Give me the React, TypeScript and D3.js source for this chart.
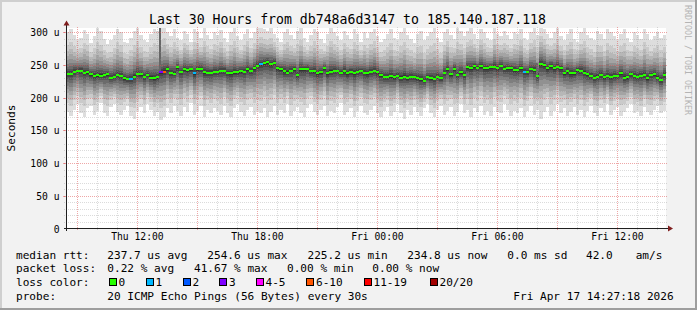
import React from 'react';
import * as d3 from 'd3';

// ---------- data ----------
const START = new Date(2026, 3, 16, 8, 27, 18);
const END = new Date(2026, 3, 17, 14, 27, 18);
const STEP_MIN = 10;

// median rtt per 10-minute column (microseconds)
const medianRtt = [
  236.2, 236.4, 239.8, 241.3, 241.3, 238.2, 238.8, 235.7, 233.6, 234.2, 233.6, 234.7, 236.2, 230.6, 232.1,
  234.7, 233.6, 229.6, 228.0, 228.5, 232.1, 236.2, 235.7, 232.1, 234.7, 230.6, 229.6, 231.1, 239.3, 239.8,
  243.3, 238.2, 236.7, 246.4, 239.8, 243.3, 242.3, 243.3, 237.2, 243.9, 244.4, 239.3, 238.2, 238.2, 239.8,
  239.8, 241.3, 241.3, 238.2, 237.2, 238.8, 238.8, 240.8, 239.8, 243.3, 241.3, 244.9, 249.0, 251.0, 252.5,
  254.6, 251.5, 253.5, 244.9, 243.9, 240.8, 238.2, 241.3, 243.3, 234.7, 243.3, 243.3, 244.4, 240.8, 240.8,
  237.2, 238.8, 244.9, 237.2, 239.8, 241.3, 240.8, 238.2, 240.8, 237.2, 239.8, 237.2, 239.8, 240.8, 238.2,
  237.2, 239.8, 240.8, 238.8, 234.7, 232.1, 231.1, 233.1, 231.1, 233.6, 230.6, 232.1, 229.6, 232.1, 231.1,
  229.6, 228.0, 225.2, 231.1, 229.6, 228.5, 232.1, 229.6, 238.2, 243.3, 235.7, 243.9, 234.7, 238.8, 234.7,
  246.4, 244.9, 247.9, 245.9, 248.4, 244.9, 244.9, 246.4, 247.4, 244.9, 249.0, 243.9, 244.9, 244.9, 242.3,
  242.3, 244.9, 239.8, 239.8, 243.9, 241.8, 233.6, 251.5, 250.0, 244.9, 249.0, 244.9, 247.4, 244.9, 237.2,
  240.8, 237.2, 237.2, 242.3, 240.8, 238.2, 235.7, 233.1, 230.6, 232.1, 234.7, 231.1, 233.1, 231.1, 233.1,
  233.1, 237.2, 230.6, 231.1, 235.7, 233.1, 232.1, 233.6, 234.7, 229.6, 234.7, 235.7, 230.6, 227.0, 234.8,
];

// highest ping per column (microseconds, estimated)
const pingMax = [
  300, 306, 296, 288, 292, 304, 298, 284, 294, 308, 302, 290, 282, 288, 296, 306, 300, 286, 284, 292, 302, 308, 296, 288, 286, 298, 306, 302, 310, 314, 300, 294, 306, 292, 288, 302, 298, 286, 306, 300, 292, 308, 296, 290, 300,
  296, 304, 292, 286, 300, 308, 294, 288, 298, 306, 292, 300, 308, 312, 306, 302, 308, 298, 292, 286, 300, 306, 296, 290, 302, 308, 292, 286, 296, 306, 300, 290, 284, 298, 308, 300, 294, 288, 302, 296, 290, 306, 298, 286, 300,
  292, 300, 306, 294, 286, 290, 298, 306, 292, 288, 300, 308, 296, 290, 284, 298, 302, 288, 294, 300, 308, 292, 286, 300, 306, 296, 290, 308, 302, 294, 302, 308, 298, 290, 306, 300, 292, 288, 308, 298, 294, 302, 296, 290, 300,
  298, 306, 292, 288, 300, 308, 296, 314, 306, 298, 292, 300, 308, 294, 288, 298, 306, 290, 286, 300, 308, 296, 292, 288, 302, 298, 290, 306, 300, 294, 288, 298, 306, 292, 286, 300, 296, 290, 306, 298, 288, 294, 300, 292, 296,
];

// lowest ping per column (microseconds, estimated)
const pingMin = [
  178, 172, 182, 190, 176, 170, 184, 188, 174, 180, 192, 176, 172, 186, 190, 178, 174, 182, 188, 172, 168, 180, 186, 176, 190, 182, 172, 178, 166, 170, 184, 176, 188, 180, 172, 186, 178, 192, 174, 180, 188, 170, 182, 176, 184,
  180, 174, 188, 176, 170, 184, 190, 178, 172, 182, 186, 174, 180, 176, 184, 170, 178, 188, 174, 182, 176, 190, 172, 180, 186, 176, 170, 184, 190, 178, 174, 182, 188, 172, 180, 176, 186, 192, 174, 178, 184, 170, 180, 188, 176,
  174, 182, 188, 176, 170, 180, 186, 172, 178, 190, 176, 168, 182, 174, 186, 178, 172, 184, 190, 176, 170, 182, 188, 174, 180, 186, 172, 178, 190, 176, 182, 170, 184, 178, 188, 174, 180, 172, 186, 178, 176, 190, 182, 172, 180,
  176, 184, 170, 180, 188, 174, 182, 168, 178, 186, 172, 180, 190, 176, 184, 172, 178, 186, 174, 182, 170, 180, 188, 176, 172, 184, 178, 190, 174, 182, 186, 172, 178, 184, 190, 176, 180, 172, 186, 178, 174, 182, 188, 176, 180,
];

// columns with packet loss and the number of lost pings
const lossCols = [19, 28, 29, 38, 58, 137];
const lossPings = [1, 3, 8, 1, 1, 1];

// columns with a lone outlier streak and its top (microseconds)
const spikeCols = [28, 141];
const spikeTops = [312, 253];

const lossLabels = ['0', '1', '2', '3', '4-5', '6-10', '11-19', '20/20'];
const lossUpper = [0, 1, 2, 3, 5, 10, 19, 20];
const lossColors = ['#26ff00', '#00b8ff', '#0059ff', '#7e00ff', '#ff00ff', '#ff5500', '#ff0000', '#a10000'];
const lossBoxX = [108.5, 145.5, 182.5, 219, 255.5, 306, 363.5, 429.5];

const smokeGrays = ['#dddddd', '#cacaca', '#b7b7b7', '#a4a4a4', '#919191', '#7e7e7e', '#6b6b6b', '#585858', '#454545', '#323232'];
const bandUpper = [1, 0.7, 0.55, 0.43, 0.33, 0.25, 0.18, 0.12, 0.07, 0.03];
const bandLower = [1, 0.75, 0.62, 0.5, 0.4, 0.3, 0.22, 0.14, 0.08, 0.035];

const yMajor = [0, 50, 100, 150, 200, 250, 300];
const yMinorStep = 10;
const Y_MAX = 306;

const legendRow1 = [
  ['median rtt:', 16], ['237.7 us avg', 107.3], ['254.6 us max', 207.3], ['225.2 us min', 307.5],
  ['234.8 us now', 407.3], ['0.0 ms sd', 507.3], ['42.0', 586], ['am/s', 635.7],
] as [string, number][];
const legendRow2 = [
  ['packet loss:', 16], ['0.22 % avg', 107.3], ['41.67 % max', 194], ['0.00 % min', 287], ['0.00 % now', 372.3],
] as [string, number][];

const MONO = 'DejaVu Sans Mono, monospace';

export default function App() {
  const W = 697, H = 310;
  const x0 = 66, x1 = 666, yTop = 28.5, yBot = 228.5;
  const x = d3.scaleTime().domain([START, END]).range([x0, x1]);
  const y = d3.scaleLinear().domain([0, Y_MAX]).range([yBot, yTop]);
  const colT = (i: number) => d3.timeMinute.offset(START, i * STEP_MIN);
  const clampY = (v: number) => Math.max(yTop - 0.5, Math.min(yBot, v));

  const lossOf = (i: number) => {
    const k = lossCols.indexOf(i);
    return k < 0 ? 0 : lossPings[k];
  };
  const colorOf = (n: number) => {
    for (let j = 0; j < lossUpper.length; j++) if (n <= lossUpper[j]) return lossColors[j];
    return lossColors[lossColors.length - 1];
  };

  const smoke: React.ReactNode[] = [];
  medianRtt.forEach((m, i) => {
    const xs = Math.round(x(colT(i)));
    const xe = Math.round(x(colT(i + 1)));
    smokeGrays.forEach((g, k) => {
      const hi = m + (pingMax[i] - m) * bandUpper[k];
      const lo = m - (m - pingMin[i]) * bandLower[k];
      const t = clampY(Math.round(y(hi)));
      const b = clampY(Math.round(y(lo)));
      smoke.push(<rect key={`s${i}-${k}`} x={xs} y={t} width={xe - xs} height={b - t} fill={g} />);
    });
  });

  const spikes = spikeCols.map((c, j) => {
    const xs = Math.round(x(colT(c)));
    const t = clampY(Math.round(y(spikeTops[j])));
    const b = Math.round(y(medianRtt[c]));
    return <rect key={`sp${j}`} x={xs} y={t} width={1.5} height={b - t} fill="#666666" />;
  });

  const medians = medianRtt.map((m, i) => {
    const xs = Math.round(x(colT(i)));
    const xe = Math.round(x(colT(i + 1)));
    const yc = Math.round(y(m));
    return <rect key={`m${i}`} x={xs} y={yc - 1} width={xe - xs} height={2} fill={colorOf(lossOf(i))} />;
  });

  const minorGrid = 'rgba(143,143,143,0.32)';
  const majorGrid = 'rgba(222,79,79,0.5)';
  const grid: React.ReactNode[] = [];
  d3.range(yMinorStep, Y_MAX, yMinorStep).forEach((v) => {
    if (v % 50 === 0) return;
    const yy = Math.round(y(v)) + 0.5;
    grid.push(<line key={`hm${v}`} x1={x0 - 2} x2={x1 + 2} y1={yy} y2={yy} stroke={minorGrid} strokeDasharray="1,1" />);
  });
  d3.timeHour.range(START, END).forEach((t) => {
    const xx = Math.round(x(t)) + 0.5;
    const major = t.getHours() % 3 === 0;
    grid.push(
      <line key={`v${+t}`} x1={xx} x2={xx} y1={yTop - 2} y2={yBot + 2} stroke={major ? majorGrid : minorGrid} strokeDasharray="1,1" />
    );
  });
  yMajor.filter((v) => v > 0).forEach((v) => {
    const yy = Math.round(y(v)) + 0.5;
    grid.push(<line key={`hM${v}`} x1={x0 - 2} x2={x1 + 2} y1={yy} y2={yy} stroke={majorGrid} strokeDasharray="1,1" />);
    grid.push(<line key={`hMt${v}`} x1={x0 - 3} x2={x0} y1={yy} y2={yy} stroke={majorGrid} />);
  });

  const xLabels = d3.timeHour.range(START, END).filter((t) => t.getHours() % 6 === 0);
  const fmt = d3.timeFormat('%a %H:%M');

  return (
    <svg width={W} height={H} style={{ position: 'absolute', left: 0, top: 0, display: 'block' }} shapeRendering="crispEdges">
      <rect x={0} y={0} width={W} height={H} fill="#f2f2f2" />
      <rect x={0} y={0} width={W} height={2} fill="#cfcfcf" />
      <rect x={0} y={0} width={2} height={H} fill="#cfcfcf" />
      <rect x={0} y={H - 2} width={W} height={2} fill="#9e9e9e" />
      <rect x={W - 2} y={0} width={2} height={H} fill="#9e9e9e" />

      <rect x={x0} y={yTop - 0.5} width={x1 - x0} height={yBot - yTop + 0.5} fill="#ffffff" />
      <g>{smoke}</g>
      <g>{spikes}</g>
      <g>{grid}</g>
      <g>{medians}</g>

      {/* axes */}
      <line x1={x0 - 2} x2={x1 + 3} y1={yBot} y2={yBot} stroke="#1f1f1f" />
      <line x1={x0 + 0.5} x2={x0 + 0.5} y1={yBot + 2} y2={yTop - 4} stroke="#1f1f1f" />
      <polygon points={`${x1 + 2},${yBot - 3} ${x1 + 7},${yBot} ${x1 + 2},${yBot + 3}`} fill="#801f1f" shapeRendering="auto" />
      <polygon points={`${x0 - 2.5},${yTop - 3} ${x0 + 0.5},${yTop - 8} ${x0 + 3.5},${yTop - 3}`} fill="#801f1f" shapeRendering="auto" />

      {/* axis labels */}
      <g fontFamily={MONO} fontSize={9.7} fill="#000">
        {yMajor.map((v) => (
          <text key={`yl${v}`} x={59.5} y={Math.round(y(v)) + 3.8} textAnchor="end">
            {v === 0 ? '0' : `${v} u`}
          </text>
        ))}
        {xLabels.map((t) => (
          <text key={`xl${+t}`} x={x(t) + 0.5} y={240.3} textAnchor="middle">
            {fmt(t)}
          </text>
        ))}
      </g>
      <text x={15} y={128} transform="rotate(-90 15 128)" textAnchor="middle" fontFamily={MONO} fontSize={11.1} fill="#000">
        Seconds
      </text>

      <text x={347.5} y={24} textAnchor="middle" fontFamily={MONO} fontSize={13.2} fill="#000">
        Last 30 Hours from db748a6d3147 to 185.140.187.118
      </text>

      <text x={684.5} y={5} transform="rotate(90 684.5 5)" fontFamily={MONO} fontSize={8.3} fill="#b4b4b4">
        RRDTOOL / TOBI OETIKER
      </text>

      {/* legend */}
      <g fontFamily={MONO} fontSize={11.1} fill="#000">
        {legendRow1.map(([s, xx]) => (
          <text key={`l1${s}`} x={xx} y={258.5}>{s}</text>
        ))}
        {legendRow2.map(([s, xx]) => (
          <text key={`l2${s}`} x={xx} y={272.3}>{s}</text>
        ))}
        <text x={16} y={286}>loss color:</text>
        {lossLabels.map((lab, j) => (
          <g key={`li${lab}`}>
            <rect x={Math.round(lossBoxX[j]) + 0.5} y={278.5} width={7} height={7} fill={lossColors[j]} stroke="#000" />
            <text x={lossBoxX[j] + 10} y={286}>{lab}</text>
          </g>
        ))}
        <text x={16} y={299.8}>probe:</text>
        <text x={107.3} y={299.8}>20 ICMP Echo Pings (56 Bytes) every 30s</text>
        <text x={513.3} y={299.8}>Fri Apr 17 14:27:18 2026</text>
      </g>
    </svg>
  );
}
